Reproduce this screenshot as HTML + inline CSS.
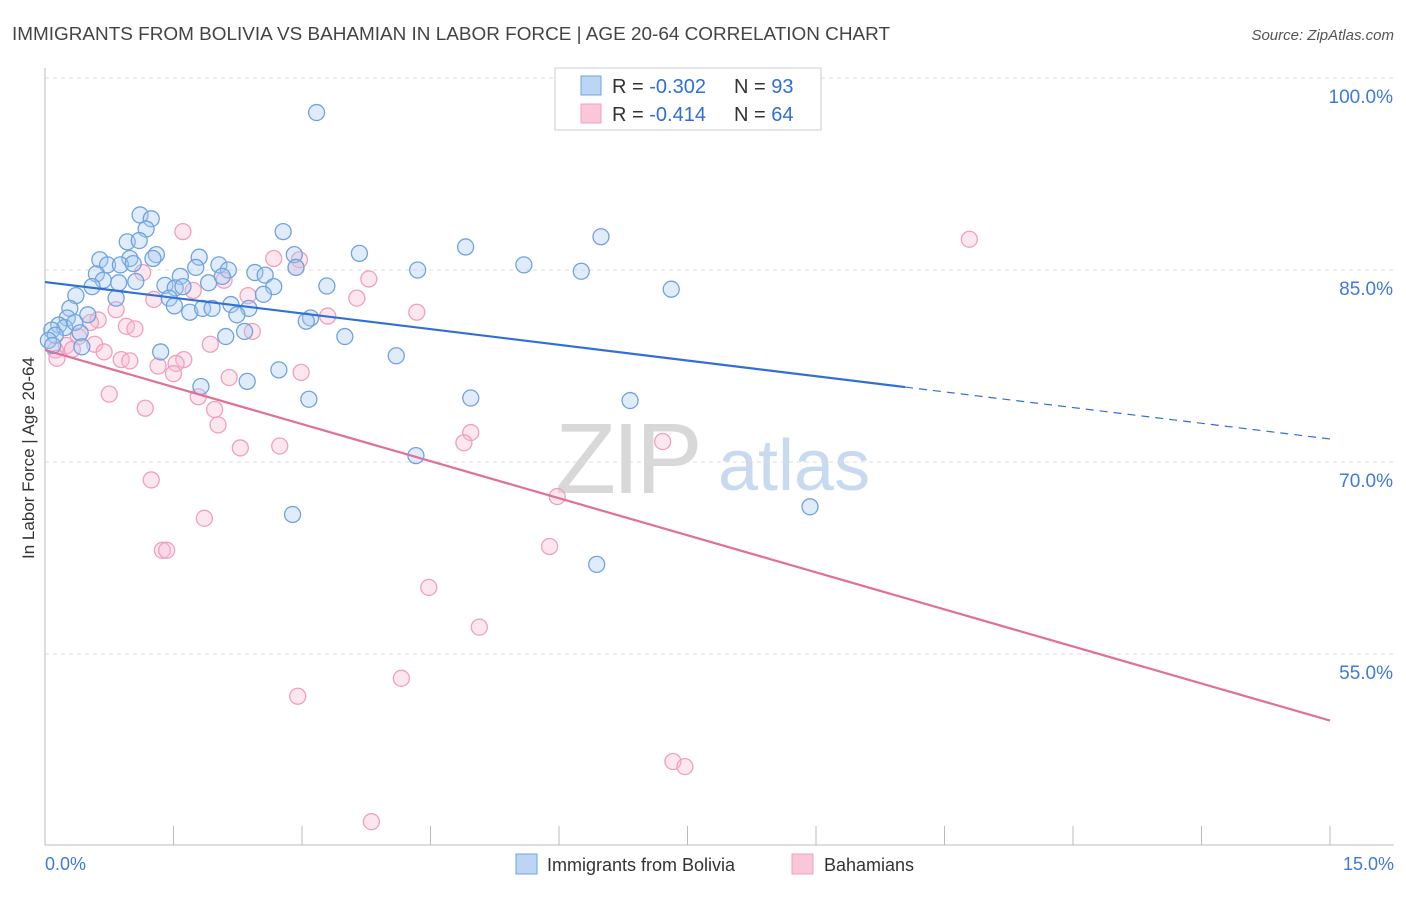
<!DOCTYPE html>
<html><head><meta charset="utf-8"><style>
body{margin:0;background:#fff;font-family:"Liberation Sans",sans-serif;}
svg text{font-family:"Liberation Sans",sans-serif;}
</style></head><body>
<svg id="chart" width="1406" height="892" viewBox="0 0 1406 892" xmlns="http://www.w3.org/2000/svg">
<text x="12" y="40" font-size="18" fill="#444" textLength="878" lengthAdjust="spacingAndGlyphs">IMMIGRANTS FROM BOLIVIA VS BAHAMIAN IN LABOR FORCE | AGE 20-64 CORRELATION CHART</text>
<text x="1394" y="40" font-size="15" fill="#555" text-anchor="end" font-style="italic">Source: ZipAtlas.com</text>
<g>
<text x="555" y="493" font-size="100" fill="#d8d8d8" font-family="Liberation Serif" letter-spacing="-4">ZIP</text>
<text x="718" y="490" font-size="72" fill="#c8daf0">atlas</text>
</g>
<g id="grid"></g>
<g id="axes"></g>
<g id="points"></g>
<g id="lines"></g>
<text transform="translate(34,458) rotate(-90)" font-size="17" fill="#333" text-anchor="middle">In Labor Force | Age 20-64</text>
<g>
<rect x="555" y="68" width="266" height="62" fill="#fff" stroke="#ccc"/>
<rect x="581" y="76" width="20" height="19" fill="#bcd5f5" stroke="#6fa3e0"/>
<rect x="581" y="104" width="20" height="19" fill="#f9c7d8" stroke="#f0a0bc"/>
<text x="612" y="93" font-size="20" fill="#333">R = <tspan fill="#2f6fd6">-0.302</tspan></text>
<text x="734" y="93" font-size="20" fill="#333">N = <tspan fill="#2f6fd6">93</tspan></text>
<text x="612" y="121" font-size="20" fill="#333">R = <tspan fill="#2f6fd6">-0.414</tspan></text>
<text x="734" y="121" font-size="20" fill="#333">N = <tspan fill="#2f6fd6">64</tspan></text>
</g>
<g>
<rect x="516" y="854" width="21" height="20" fill="#bcd5f5" stroke="#6fa3e0"/>
<text x="547" y="871" font-size="18" fill="#333">Immigrants from Bolivia</text>
<rect x="792" y="854" width="21" height="20" fill="#f9c7d8" stroke="#f0a0bc"/>
<text x="824" y="871" font-size="18" fill="#333">Bahamians</text>
</g>
</svg>
<script>
const xTicks=[0,1.5,3,4.5,6,7.5,9,10.5,12,13.5,15];
const xTickLabels=["0.0%","15.0%"];
const yTicks=[100,85,70,55];
const yTickLabels=["100.0%","85.0%","70.0%","55.0%"];
const boliviaX=[3.17,1.11,1.24,1.18,0.96,1.10,2.78,6.49,4.91,3.67,5.59,6.26,4.35,2.91,1.80,1.30,1.26,0.99,0.64,0.73,0.88,1.03,2.03,2.14,2.45,2.57,2.93,1.76,1.58,0.60,0.68,0.55,0.86,1.06,1.40,1.52,1.61,1.91,2.07,2.67,2.55,3.29,0.36,0.83,1.45,1.51,1.69,1.84,1.95,2.17,2.38,2.24,0.29,0.50,0.26,0.16,0.23,0.35,0.08,0.12,0.04,0.09,0.41,0.43,3.10,3.05,2.11,2.33,3.50,1.35,4.10,2.73,2.36,1.82,3.08,4.97,6.83,7.31,4.33,2.89,8.93,6.44];
const boliviaY=[97.3,89.3,89.0,88.2,87.2,87.3,88.0,87.6,86.8,86.3,85.4,84.9,85.0,86.2,86.0,86.2,85.9,85.9,85.8,85.4,85.4,85.5,85.4,85.0,84.8,84.6,85.2,85.2,84.5,84.7,84.2,83.7,84.0,84.1,83.8,83.6,83.7,84.0,84.5,83.7,83.1,83.75,83.0,82.8,82.8,82.2,81.7,82.0,82.0,82.3,82.0,81.5,82.0,81.5,81.25,80.7,80.5,80.9,80.3,79.9,79.5,79.1,80.1,79.0,81.25,81.0,79.8,80.2,79.8,78.6,78.3,77.2,76.3,75.9,74.9,75.0,74.8,83.5,70.5,65.9,66.5,62.0];
const bahamianX=[1.61,10.79,2.67,2.97,2.93,3.78,2.09,1.14,1.73,2.37,1.27,3.64,4.34,3.30,0.83,0.62,0.53,0.95,1.05,2.42,0.39,1.93,0.58,0.25,0.12,0.32,0.69,0.14,0.89,0.99,1.62,1.32,1.53,1.50,2.99,2.15,0.75,1.79,1.17,1.98,2.02,4.97,4.89,7.21,2.28,2.74,1.24,5.98,1.86,5.89,1.37,1.42,4.48,5.07,4.16,2.95,7.33,7.47,3.81];
const bahamianY=[88.0,87.4,85.9,85.8,85.2,84.3,84.2,84.8,83.4,83.0,82.7,82.8,81.7,81.4,81.9,81.1,80.9,80.6,80.4,80.2,79.8,79.2,79.2,79.1,78.75,78.8,78.6,78.1,78.0,77.9,78.0,77.5,77.7,76.9,77.0,76.6,75.3,75.1,74.2,74.1,72.9,72.3,71.5,71.6,71.1,71.25,68.6,67.3,65.6,63.4,63.1,63.1,60.2,57.1,53.1,51.7,46.6,46.2,41.9];
const boliviaTrend=[84.06,71.8];
const bahamianTrend=[78.75,49.8];
const boliviaSolidEnd=10.04;
const NS="http://www.w3.org/2000/svg";
const X=v=>45+(v/15)*1285;
const Y=v=>78+(100-v)*12.8;
function mk(tag,attrs,parent){const e=document.createElementNS(NS,tag);for(const k in attrs)e.setAttribute(k,attrs[k]);parent.appendChild(e);return e;}
const grid=document.getElementById('grid'),axes=document.getElementById('axes'),pts=document.getElementById('points'),lines=document.getElementById('lines');
yTicks.forEach((t,i)=>{
 const l=mk('line',{x1:45,x2:1394,y1:Y(t),y2:Y(t),stroke:'#ddd','stroke-dasharray':'4,4'},grid);
 
 
 const tx=mk('text',{x:1393,y:Y(t)+25,'font-size':19,fill:'#3f7ad8','text-anchor':'end'},axes);
 tx.textContent=yTickLabels[i];
 
 
});
const ax=mk('line',{x1:45,x2:1394,y1:845,y2:845,stroke:'#bbb'},axes);


const ay=mk('line',{x1:45,x2:45,y1:68,y2:845,stroke:'#bbb'},axes);


xTicks.forEach(t=>{
 const l=mk('line',{x1:X(t),x2:X(t),y1:826,y2:845,stroke:'#bbb'},axes);
 
 
});
const xl0=mk('text',{x:45,y:870,'font-size':18,fill:'#3f7ad8'},axes);
xl0.textContent=xTickLabels[0];


const xl1=mk('text',{x:1394,y:870,'font-size':18,fill:'#3f7ad8','text-anchor':'end'},axes);
xl1.textContent=xTickLabels[1];


function dots(xs,ys,fill,stroke,name){xs.forEach((x,i)=>{
 const c=mk('circle',{cx:X(x),cy:Y(ys[i]),r:8,fill:fill,stroke:stroke,'stroke-width':1.3},pts);
 
 
});}
dots(bahamianX,bahamianY,'rgba(247,185,208,0.35)','#f0a0bc','bahamian-point');
dots(boliviaX,boliviaY,'rgba(170,200,240,0.35)','#6fa3e0','bolivia-point');
const bAt=x=>boliviaTrend[0]+(boliviaTrend[1]-boliviaTrend[0])*x/15;
const l1=mk('line',{x1:X(0),y1:Y(bAt(0)),x2:X(boliviaSolidEnd),y2:Y(bAt(boliviaSolidEnd)),stroke:'#2f6fd6','stroke-width':2.2},lines);


const l2=mk('line',{x1:X(boliviaSolidEnd),y1:Y(bAt(boliviaSolidEnd)),x2:X(15),y2:Y(bAt(15)),stroke:'#2f6fd6','stroke-width':1.2,'stroke-dasharray':'8,6'},lines);


const l3=mk('line',{x1:X(0),y1:Y(bahamianTrend[0]),x2:X(15),y2:Y(bahamianTrend[1]),stroke:'#e0709a','stroke-width':2.2},lines);


</script>
</body></html>
